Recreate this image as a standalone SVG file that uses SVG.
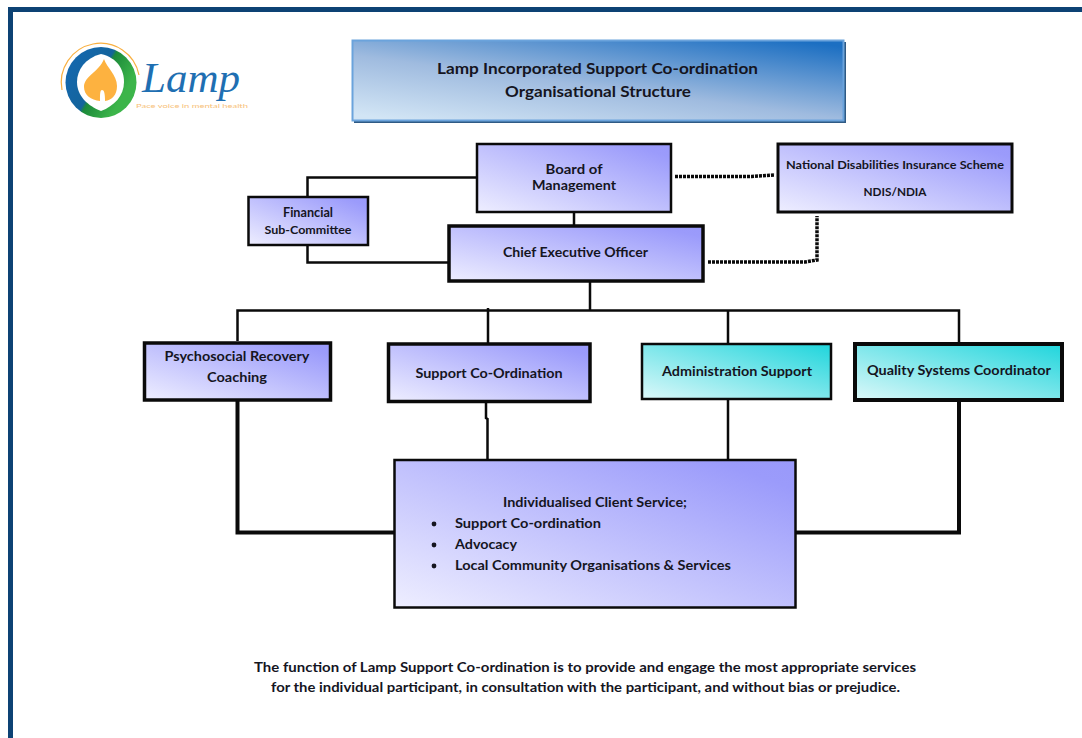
<svg xmlns="http://www.w3.org/2000/svg" width="1082" height="738" viewBox="0 0 1082 738">
<style>
text{font-family:"Lato","Open Sans","Liberation Sans",sans-serif;font-weight:700;fill:#15151f;text-anchor:middle}
.l{text-anchor:start}
.n{stroke:#0a0a0a;fill:url(#pv)}
.c{stroke:#0a0a0a;fill:url(#cy)}
.e{fill:none;stroke:#0a0a0a;stroke-width:2.5}
.h{fill:none;stroke:#0a0a0a;stroke-width:4}
.d{fill:none;stroke:#0a0a0a;stroke-width:3.5;stroke-dasharray:3 1}
</style>
<defs>
<linearGradient id="pv" x1="0" y1="1" x2="1" y2="0"><stop offset="0" stop-color="#eeeeff"/><stop offset="0.9" stop-color="#9b9bfb"/><stop offset="1" stop-color="#9999fa"/></linearGradient>
<linearGradient id="cy" x1="0" y1="1" x2="1" y2="0"><stop offset="0" stop-color="#dcf8f9"/><stop offset="1" stop-color="#1fd5dc"/></linearGradient>
<linearGradient id="tt" x1="0.1" y1="1" x2="0.9" y2="0"><stop offset="0" stop-color="#d2e5f5"/><stop offset="0.45" stop-color="#9fbbdf"/><stop offset="1" stop-color="#1c6fc2"/></linearGradient>
<linearGradient id="lg" x1="0.1" y1="0.3" x2="0.8" y2="0.7"><stop offset="0" stop-color="#1467ab"/><stop offset="0.47" stop-color="#14649c"/><stop offset="0.53" stop-color="#1c8a3a"/><stop offset="1" stop-color="#3cb54a"/></linearGradient>
</defs>
<path id="frame" d="M1082 9.5H10.5V738" fill="none" stroke="#0d4274" stroke-width="5"/>
<g id="logo">
<path d="M62 90A39 39 0 1 1 139 75" fill="none" stroke="#f9b041" stroke-width="1.200"/>
<circle cx="101" cy="82.500" r="35.500" fill="url(#lg)"/>
<path d="M101 54C118 58 124 70 124 82C124 96 114 106 101 111C88 106 77 96 77 82C77 70 85 58 101 54Z" fill="#fff"/>
<path d="M104 59C107 68 117 75 117 86C117 95 112 100 105 101C105 93 104 90 102 90C100 90 100 94 100 101C91 100 84 95 84 87C84 76 99 72 104 59Z" fill="#fdb240"/>
<text class="l" x="142" y="92" style="font-family:'Liberation Serif',serif;font-style:italic;font-weight:400;fill:#1f6fb2" font-size="42" textLength="98" lengthAdjust="spacingAndGlyphs">Lamp</text>
<text class="l" x="136" y="107.500" style="font-weight:400;fill:#f7c27a" font-size="6.500" textLength="112" lengthAdjust="spacingAndGlyphs">Pace voice in mental health</text>
</g>
<g id="connectors">
<path class="e" d="M477 177.500H307.500V197M307.500 245V262.500H449M574 212V225M590 281V310.500M237.500 341V310.500H959V342M488 343V308M728 344V310.500M728 399V459M486 402V418L487.500 419V459"/>
<path class="h" d="M237.500 400V532.500H394M959 401V532.500H796"/>
<path class="d" d="M675 176.500H752L775 175M708 262H805L817 260V216"/>
</g>
<g id="title">
<rect x="354" y="42" width="492" height="81" fill="#2f5a85"/>
<rect x="352.500" y="40.500" width="491" height="80" fill="url(#tt)" stroke="#6ba3dc" stroke-width="2"/>
<text x="597.500" y="74" font-size="16" textLength="321" lengthAdjust="spacingAndGlyphs">Lamp Incorporated Support Co-ordination</text>
<text x="598" y="97" font-size="16" textLength="186" lengthAdjust="spacingAndGlyphs">Organisational Structure</text>
</g>
<g id="board">
<rect class="n" x="477" y="144" width="194" height="68" stroke-width="2.500"/>
<text x="574" y="174" font-size="14" textLength="57" lengthAdjust="spacingAndGlyphs">Board of</text>
<text x="574" y="190" font-size="14" textLength="84" lengthAdjust="spacingAndGlyphs">Management</text>
</g>
<g id="financial">
<rect class="n" x="248.500" y="197" width="119.500" height="48" stroke-width="2.500"/>
<text x="308" y="217" font-size="12.500" textLength="50" lengthAdjust="spacingAndGlyphs">Financial</text>
<text x="308" y="234" font-size="11.500" textLength="87" lengthAdjust="spacingAndGlyphs">Sub-Committee</text>
</g>
<g id="ceo">
<rect class="n" x="449" y="226" width="254" height="55" stroke-width="3.500"/>
<text x="575.500" y="257" font-size="14" textLength="145" lengthAdjust="spacingAndGlyphs">Chief Executive Officer</text>
</g>
<g id="ndis">
<rect class="n" x="778" y="144" width="234" height="68" stroke-width="3"/>
<text x="895" y="169" font-size="11.500" textLength="218" lengthAdjust="spacingAndGlyphs">National Disabilities Insurance Scheme</text>
<text x="895" y="196" font-size="11.500" textLength="63" lengthAdjust="spacingAndGlyphs">NDIS/NDIA</text>
</g>
<g id="psychosocial">
<rect class="n" x="144.500" y="343" width="186" height="57" stroke-width="3.500"/>
<text x="237" y="361" font-size="14" textLength="145" lengthAdjust="spacingAndGlyphs">Psychosocial Recovery</text>
<text x="237" y="382" font-size="14" textLength="60" lengthAdjust="spacingAndGlyphs">Coaching</text>
</g>
<g id="support">
<rect class="n" x="388.500" y="344" width="201.500" height="57.500" stroke-width="3.500"/>
<text x="489" y="378" font-size="14" textLength="147" lengthAdjust="spacingAndGlyphs">Support Co-Ordination</text>
</g>
<g id="admin">
<rect class="c" x="642" y="344" width="189" height="55" stroke-width="2.500"/>
<text x="737" y="376" font-size="14" textLength="150" lengthAdjust="spacingAndGlyphs">Administration Support</text>
</g>
<g id="quality">
<rect class="c" x="855" y="344" width="207" height="56" stroke-width="4"/>
<text x="959" y="375" font-size="14" textLength="184" lengthAdjust="spacingAndGlyphs">Quality Systems Coordinator</text>
</g>
<g id="client">
<rect class="n" x="394.500" y="460" width="401" height="147.500" stroke-width="2.500"/>
<text x="595" y="507" font-size="14" textLength="184" lengthAdjust="spacingAndGlyphs">Individualised Client Service;</text>
<circle cx="434" cy="524" r="2.400" fill="#15151f"/>
<text class="l" x="455" y="528" font-size="14" textLength="146" lengthAdjust="spacingAndGlyphs">Support Co-ordination</text>
<circle cx="434" cy="545" r="2.400" fill="#15151f"/>
<text class="l" x="455" y="549" font-size="14" textLength="62" lengthAdjust="spacingAndGlyphs">Advocacy</text>
<circle cx="434" cy="566" r="2.400" fill="#15151f"/>
<text class="l" x="455" y="570" font-size="14" textLength="276" lengthAdjust="spacingAndGlyphs">Local Community Organisations &amp; Services</text>
</g>
<g id="note">
<text x="585" y="672" font-size="14" textLength="662" lengthAdjust="spacingAndGlyphs">The function of Lamp Support Co-ordination is to provide and engage the most appropriate services</text>
<text x="585.500" y="692" font-size="14" textLength="629" lengthAdjust="spacingAndGlyphs">for the individual participant, in consultation with the participant, and without bias or prejudice.</text>
</g>
</svg>
